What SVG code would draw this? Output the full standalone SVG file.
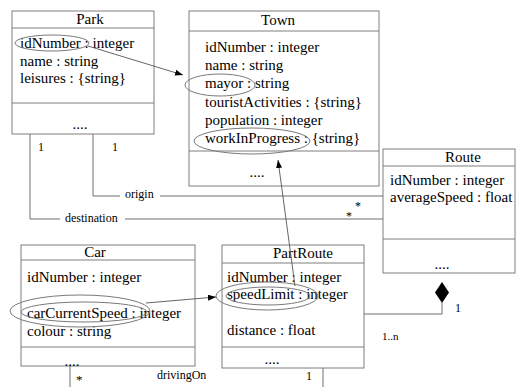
<svg xmlns="http://www.w3.org/2000/svg" width="517" height="387" viewBox="0 0 517 387">
  <defs>
    <style>
      .box { fill: #ffffff; stroke: #7f7f7f; stroke-width: 1; }
      .sep { stroke: #7f7f7f; stroke-width: 1; }
      .t { font-size: 15px; fill: #000; }
      .title { text-anchor: middle; }
      .lbl { font-size: 12px; fill: #000; }
      .link { fill: none; stroke: #6e6e6e; stroke-width: 1; }
      .arrow { fill: none; stroke: #555; stroke-width: 0.9; }
      .oval { fill: none; stroke: #7a7a7a; stroke-width: 1; }
    </style>
    <marker id="head" markerWidth="8" markerHeight="6" refX="8" refY="3" orient="auto" markerUnits="userSpaceOnUse">
      <path d="M0,0 L8,3 L0,6 Z" fill="#000"/>
    </marker>
  </defs>
  <rect width="517" height="387" fill="#ffffff"/>

  <g font-family="'Liberation Serif', 'Times New Roman', 'DejaVu Serif', serif">
  <g id="park">
    <rect class="box" x="12" y="11" width="142" height="123"/>
    <line class="sep" x1="12" y1="28" x2="154" y2="28"/>
    <line class="sep" x1="12" y1="103" x2="154" y2="103"/>
    <text class="t title" x="90" y="24">Park</text>
    <text class="t" x="20" y="48">idNumber : integer</text>
    <text class="t" x="20" y="66">name : string</text>
    <text class="t" x="20" y="83">leisures : {string}</text>
    <text class="t title" x="80" y="129">....</text>
    <ellipse class="oval" cx="52" cy="43" rx="37" ry="8"/>
  </g>

  <g id="town">
    <rect class="box" x="189" y="11" width="190" height="175"/>
    <line class="sep" x1="189" y1="31" x2="379" y2="31"/>
    <line class="sep" x1="189" y1="151" x2="379" y2="151"/>
    <text class="t title" x="278" y="25">Town</text>
    <text class="t" x="205" y="52">idNumber : integer</text>
    <text class="t" x="205" y="70">name : string</text>
    <text class="t" x="205" y="88">mayor : string</text>
    <text class="t" x="205" y="107">touristActivities : {string}</text>
    <text class="t" x="205" y="125">population : integer</text>
    <text class="t" x="205" y="143">workInProgress : {string}</text>
    <text class="t title" x="257" y="177">....</text>
    <ellipse class="oval" cx="220" cy="85" rx="35" ry="11"/>
    <ellipse class="oval" cx="252" cy="141" rx="58" ry="13"/>
  </g>

  <g id="route">
    <rect class="box" x="383" y="149" width="132" height="124"/>
    <line class="sep" x1="383" y1="166" x2="515" y2="166"/>
    <line class="sep" x1="383" y1="239" x2="515" y2="239"/>
    <text class="t title" x="463" y="162">Route</text>
    <text class="t" x="390" y="185">idNumber : integer</text>
    <text class="t" x="390" y="202">averageSpeed : float</text>
    <text class="t title" x="442" y="269">....</text>
  </g>

  <g id="car">
    <rect class="box" x="21" y="245" width="174" height="121"/>
    <line class="sep" x1="21" y1="260" x2="195" y2="260"/>
    <line class="sep" x1="21" y1="347" x2="195" y2="347"/>
    <text class="t title" x="95" y="257">Car</text>
    <text class="t" x="27" y="282">idNumber : integer</text>
    <text class="t" x="27" y="318">carCurrentSpeed : integer</text>
    <text class="t" x="27" y="336">colour : string</text>
    <text class="t title" x="72" y="366">....</text>
    <ellipse class="oval" cx="80" cy="311" rx="70" ry="16"/>
    <ellipse class="oval" cx="84" cy="312" rx="63" ry="10"/>
  </g>

  <g id="partroute">
    <rect class="box" x="222" y="245" width="142" height="123"/>
    <line class="sep" x1="222" y1="263" x2="364" y2="263"/>
    <line class="sep" x1="222" y1="347" x2="364" y2="347"/>
    <text class="t title" x="303" y="258">PartRoute</text>
    <text class="t" x="227" y="282">idNumber : integer</text>
    <text class="t" x="227" y="299">speedLimit : integer</text>
    <text class="t" x="227" y="335">distance : float</text>
    <text class="t title" x="272" y="364">....</text>
    <ellipse class="oval" cx="267" cy="296" rx="51" ry="14"/>
    <ellipse class="oval" cx="268" cy="296" rx="42" ry="9"/>
  </g>

  <!-- associations, drawn over the class boxes -->
  <g id="connectors">
    <!-- origin: Park to Route -->
    <path class="link" d="M93,134 V196 H120"/>
    <path class="link" d="M160,196 H383"/>
    <text class="lbl" x="125" y="198">origin</text>
    <!-- destination: Park to Route -->
    <path class="link" d="M30,134 V219 H60"/>
    <path class="link" d="M125,219 H383"/>
    <text class="lbl" x="65" y="222">destination</text>
    <text class="lbl" x="38" y="151">1</text>
    <text class="lbl" x="112" y="151">1</text>
    <text class="lbl" x="355" y="210">*</text>
    <text class="lbl" x="346" y="220">*</text>
    <!-- composition: Route owns PartRoute -->
    <path class="link" d="M364,314 H442 V303"/>
    <path d="M442,282 L449,292.5 L442,303 L435,292.5 Z" fill="#000"/>
    <text class="lbl" x="455" y="312">1</text>
    <text class="lbl" x="382" y="340" style="font-size:11px">1..n</text>
    <!-- drivingOn: Car to PartRoute -->
    <path class="link" d="M70,366 V387"/>
    <path class="link" d="M323,368 V387"/>
    <text class="lbl" x="76" y="384" style="font-size:13px">*</text>
    <text class="lbl" x="157" y="379">drivingOn</text>
    <text class="lbl" x="306" y="380">1</text>
    <!-- attribute dependencies -->
    <path class="arrow" d="M88,46 L183,75" marker-end="url(#head)"/>
    <path class="arrow" d="M146,303 L216,297" marker-end="url(#head)"/>
    <path class="arrow" d="M295,286 L278,160" marker-end="url(#head)"/>
  </g>
  </g>
</svg>
